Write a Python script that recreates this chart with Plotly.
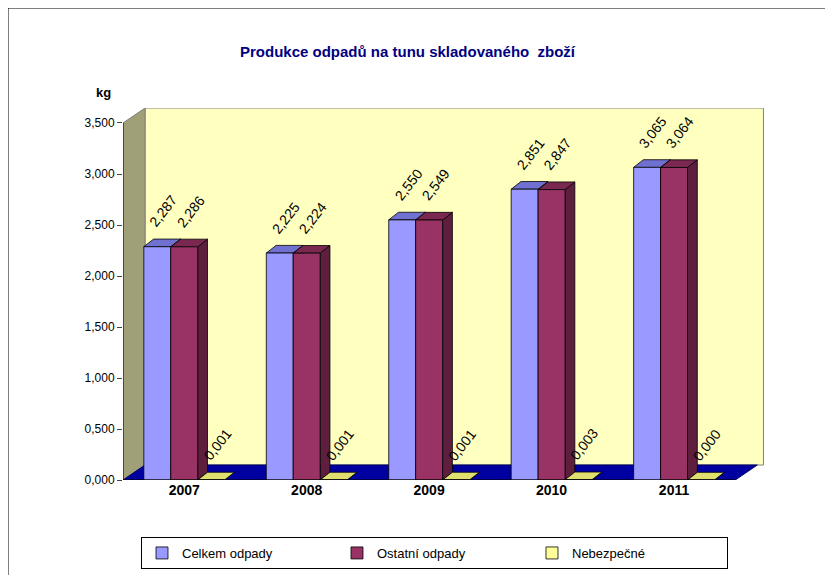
import plotly.graph_objects as go

years = ["2007", "2008", "2009", "2010", "2011"]
celkem = [2.287, 2.225, 2.550, 2.851, 3.065]
ostatni = [2.286, 2.224, 2.549, 2.847, 3.064]
nebezpecne = [0.001, 0.001, 0.001, 0.003, 0.000]
y_ticks = [0, 0.5, 1, 1.5, 2, 2.5, 3, 3.5]

series = [
    ("Celkem odpady", celkem, "#9999FF", "#7070D0", "#5C5CB0"),
    ("Ostatní odpady", ostatni, "#993366", "#7A2850", "#5E1E3D"),
    ("Nebezpečné", nebezpecne, "#FFFF99", "#E0E070", "#C0C050"),
]

W = 0.22          # bar width in category units
DX, DY = 0.08, 0.075    # bar depth
WX, WY = 0.18, 0.147    # wall depth


def fmt(v):
    return f"{v:.3f}".replace(".", ",")


fig = go.Figure()
shapes = []
ann = []

# walls and floor
shapes.append(dict(type="rect", xref="x", yref="y", x0=-0.5 + WX, x1=4.5 + WX + 0.05,
                   y0=WY, y1=3.5 + WY, fillcolor="#FFFFC0", line=dict(color="#808080", width=1),
                   layer="below"))
shapes.append(dict(type="path", xref="x", yref="y",
                   path=f"M -0.5 0 L {-0.5 + WX} {WY} L {-0.5 + WX} {3.5 + WY} L -0.5 3.5 Z",
                   fillcolor="#A0A078", line=dict(color="#808080", width=1), layer="below"))
shapes.append(dict(type="path", xref="x", yref="y",
                   path=f"M -0.5 0 L 4.5 0 L {4.5 + WX} {WY} L {-0.5 + WX} {WY} Z",
                   fillcolor="#0000A0", line=dict(color="#000060", width=1), layer="below"))

# legend-only traces
for name, vals, col, topc, sidec in series:
    fig.add_trace(go.Bar(x=[None], y=[None], name=name,
                         marker=dict(color=col, line=dict(color="#000000", width=0.8))))

# bars drawn left to right so each front face covers the previous side face
for i in range(len(years)):
    for k, (name, vals, col, topc, sidec) in enumerate(series):
        x = i + (k - 1) * W
        v = vals[i]
        l, r = x - W / 2, x + W / 2
        shapes.append(dict(type="path", xref="x", yref="y",
                           path=f"M {r} 0 L {r + DX} {DY} L {r + DX} {v + DY} L {r} {v} Z",
                           fillcolor=sidec, line=dict(color="#000000", width=0.8)))
        shapes.append(dict(type="path", xref="x", yref="y",
                           path=f"M {l} {v} L {l + DX} {v + DY} L {r + DX} {v + DY} L {r} {v} Z",
                           fillcolor=topc, line=dict(color="#000000", width=0.8)))
        shapes.append(dict(type="rect", xref="x", yref="y", x0=l, x1=r, y0=0, y1=v,
                           fillcolor=col, line=dict(color="#000000", width=0.8)))
        ann.append(dict(x=x, y=v + DY + 0.06, xref="x", yref="y", text=fmt(v), showarrow=False,
                        textangle=-52, xanchor="left", yanchor="bottom",
                        font=dict(size=14, color="black", family="Arial"), xshift=-14))

# front axis lines
shapes.append(dict(type="line", xref="x", yref="y", x0=-0.5, x1=4.5, y0=0, y1=0, line=dict(color="black", width=1)))
shapes.append(dict(type="line", xref="x", yref="y", x0=-0.5, x1=-0.5, y0=0, y1=3.5, line=dict(color="black", width=1)))
for i in range(len(years) + 1):
    shapes.append(dict(type="line", xref="x", yref="y", x0=i - 0.5, x1=i - 0.5, y0=0, y1=-0.06,
                       line=dict(color="black", width=1)))
shapes.append(dict(type="rect", xref="paper", yref="paper", x0=0, x1=1, y0=0, y1=1,
                   line=dict(color="black", width=1)))

ann.append(dict(x=86 / 833, y=1 - 75 / 575, xref="paper", yref="paper", text="<b>kg</b>",
                showarrow=False, font=dict(size=13, color="black", family="Arial")))
ann.append(dict(x=0.48, y=1 - 33 / 575, xref="paper", yref="paper",
                text="<b>Produkce odpadů na tunu skladovaného  zboží</b>", showarrow=False,
                font=dict(size=15, color="#000080", family="Arial")))

fig.update_layout(
    width=833, height=575,
    margin=dict(l=0, r=0, t=0, b=0, autoexpand=False),
    paper_bgcolor="white", plot_bgcolor="rgba(0,0,0,0)",
    font=dict(family="Arial", color="black"),
    barmode="overlay",
    showlegend=True,
    legend=dict(orientation="h", x=0.512, xanchor="center", y=1 - 545 / 575, yanchor="middle",
                bordercolor="black", borderwidth=1, font=dict(size=13),
                entrywidth=150),
    shapes=shapes,
    annotations=ann,
    xaxis=dict(domain=[115 / 833, 764 / 833], range=[-0.5, 4.5 + WX + 0.12],
               tickvals=list(range(len(years))), ticktext=[f"<b>{y}</b>" for y in years],
               showgrid=False, zeroline=False, showline=False, tickfont=dict(size=14)),
    yaxis=dict(domain=[103 / 575, 475 / 575], range=[0, 3.5 + WY],
               tickvals=y_ticks, ticktext=[fmt(v) for v in y_ticks], ticks="outside", ticklen=5,
               showgrid=False, zeroline=False, showline=False, tickfont=dict(size=12)),
)

fig.write_html("out.html")
